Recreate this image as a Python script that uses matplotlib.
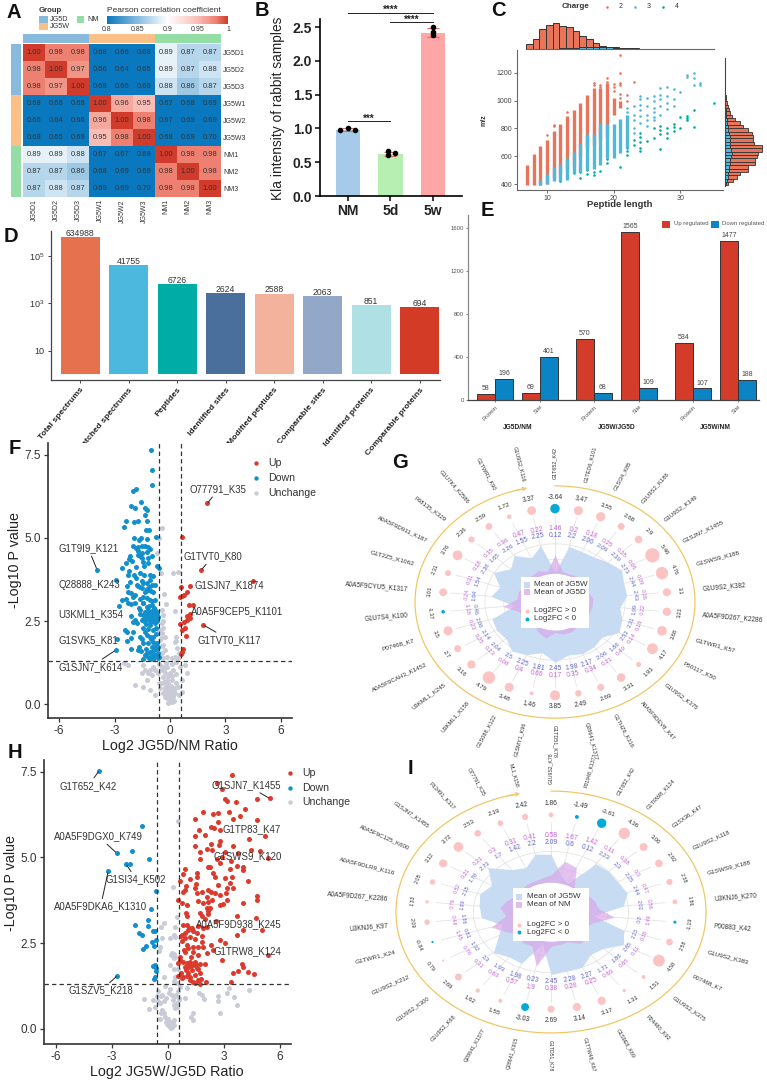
import numpy as np
import matplotlib
matplotlib.use('Agg')
import matplotlib.pyplot as plt
from matplotlib.colors import LinearSegmentedColormap, ListedColormap
from matplotlib.patches import Rectangle

plt.rcParams['font.family'] = ['Liberation Sans', 'DejaVu Sans']
plt.rcParams['axes.unicode_minus'] = False

W, H = 767, 1082
fig = plt.figure(figsize=(W / 100, H / 100), dpi=100)


# axes from pixel box, y counted from the top
def box(l, t, r, b, **kw):
    return fig.add_axes([l / W, 1 - b / H, (r - l) / W, (b - t) / H], **kw)


# ---------- data ----------
samples = ['JG5D1', 'JG5D2', 'JG5D3', 'JG5W1', 'JG5W2', 'JG5W3', 'NM1', 'NM2', 'NM3']
corr = [[1.00, 0.98, 0.98, 0.68, 0.66, 0.68, 0.89, 0.87, 0.87],
        [0.98, 1.00, 0.97, 0.66, 0.64, 0.65, 0.89, 0.87, 0.88],
        [0.98, 0.97, 1.00, 0.68, 0.66, 0.69, 0.88, 0.86, 0.87],
        [0.68, 0.66, 0.68, 1.00, 0.96, 0.95, 0.67, 0.68, 0.69],
        [0.66, 0.64, 0.66, 0.96, 1.00, 0.98, 0.67, 0.69, 0.69],
        [0.68, 0.65, 0.69, 0.95, 0.98, 1.00, 0.68, 0.69, 0.70],
        [0.89, 0.89, 0.88, 0.67, 0.67, 0.68, 1.00, 0.98, 0.98],
        [0.87, 0.87, 0.86, 0.68, 0.69, 0.69, 0.98, 1.00, 0.98],
        [0.87, 0.88, 0.87, 0.69, 0.69, 0.70, 0.98, 0.98, 1.00]]
sample_group = [0, 0, 0, 1, 1, 1, 2, 2, 2]

kla_groups = ['NM', '5d', '5w']
kla_mean = [0.98, 0.62, 2.42]
kla_err = [0.02, 0.03, 0.06]
kla_reps = [[0.97, 1.01, 0.98], [0.66, 0.61, 0.63], [2.50, 2.43, 2.38]]

# charge columns dense enough to merge: length, lowest and highest m/z
c2_len = [7, 8, 9, 10, 11, 12, 13, 14, 15, 16, 17, 18, 19, 20, 21]
c2_lo = [395, 395, 395, 400, 440, 470, 500, 530, 600, 660, 680, 720, 740, 900, 950]
c2_hi = [535, 615, 675, 715, 780, 830, 890, 935, 985, 1040, 1090, 1090, 1130, 1020, 1000]
c3_len = [9, 10, 11, 12, 13, 14, 15, 16, 17, 18, 19, 20, 21, 22]
c3_lo = [395, 400, 420, 420, 430, 480, 490, 500, 510, 540, 590, 590, 620, 660]
c3_hi = [430, 470, 520, 545, 590, 630, 690, 760, 760, 840, 830, 830, 870, 900]
# sparse points
c2_x = [10, 11, 11, 13, 17, 18, 19, 19, 20, 20, 21, 21, 21, 21, 21, 21, 22, 23, 19, 19, 18, 17, 20, 22]
c2_y = [750, 825, 815, 920, 1130, 1095, 1135, 1110, 1120, 1100, 1325, 1195, 1130, 1110, 1050, 1020, 1000, 1135, 1160, 980, 1110, 1110, 1070, 1040]
c3_x = [22, 22, 23, 23, 23, 23, 24, 24, 24, 24, 24, 25, 25, 25, 25, 26, 26, 26, 26, 26, 27, 27, 27, 27, 27, 28, 28, 28, 28, 29, 29, 29, 30, 31, 31, 32, 32, 32, 33, 33, 23, 24, 25, 26]
c3_y = [920, 950, 960, 900, 860, 800, 1030, 1010, 970, 930, 890, 1020, 960, 900, 860, 1030, 1000, 950, 920, 880, 1090, 1040, 1010, 960, 900, 1095, 1030, 980, 940, 1085, 1010, 960, 1065, 1185, 1170, 1195, 1165, 1110, 1130, 1110, 770, 840, 820, 860]
c4_x = [12, 13, 14, 15, 15, 16, 16, 16, 17, 17, 17, 17, 18, 19, 19, 19, 20, 20, 20, 21, 21, 21, 22, 22, 22, 23, 23, 24, 24, 24, 24, 24, 25, 26, 26, 27, 27, 27, 27, 28, 28, 28, 29, 29, 29, 30, 30, 31, 31, 31, 32, 32, 35]
c4_y = [425, 440, 480, 445, 490, 470, 500, 540, 465, 490, 530, 560, 495, 550, 580, 610, 600, 620, 700, 520, 640, 690, 610, 640, 660, 680, 720, 640, 660, 700, 740, 770, 710, 730, 800, 650, 760, 790, 820, 730, 770, 800, 780, 810, 830, 800, 880, 860, 875, 890, 808, 930, 980]
top_left_edge = 6.85
c2_len_hist = [15, 30, 58, 72, 77, 68, 64, 52, 40, 30, 18, 10, 6, 5, 4, 3, 1, 1, 1, 1]
c3_len_hist = [0, 0, 0, 1, 1, 2, 3, 4, 5, 6, 6, 6, 5, 4, 3, 2, 2, 1, 1, 1]
mz_edge = 390
c2_mz_hist = [8, 25, 35, 45, 70, 70, 90, 90, 95, 100, 110, 112, 88, 85, 85, 82, 70, 55, 45, 30, 20, 15, 12, 8, 5, 3, 2, 1, 1]
c3_mz_hist = [4, 6, 8, 10, 12, 12, 16, 16, 18, 20, 18, 16, 16, 14, 14, 12, 10, 8, 6, 5, 4, 3, 2, 1, 1, 0, 0, 0, 0]

count_names = ['Total spectrums', 'Matched spectrums', 'Peptides', 'Identified sites',
               'Modified peptides', 'Comparable sites', 'Identified proteins', 'Comparable proteins']
count_vals = [634988, 41755, 6726, 2624, 2588, 2063, 851, 694]
count_cols = ['#E6714F', '#4CB8DD', '#00ADA6', '#4A6F9C', '#F3B29B', '#93A7C9', '#AEE0E4', '#D43B27']

reg_kind = ['Protein', 'Site', 'Protein', 'Site', 'Protein', 'Site']
reg_up = [58, 69, 570, 1565, 534, 1477]
reg_down = [196, 401, 68, 109, 107, 188]
reg_groups = ['JG5D/NM', 'JG5W/JG5D', 'JG5W/NM']
reg_pos = [0, 1, 2.2, 3.2, 4.4, 5.4]

f_up_x = [.67, 2.02, 1.68, .58, 1.08, .94, .76, .56, .67, 1.03, 1.23, 1.08, .99, .9, .76, .54, 1.08, .94, .81, .67, 1.81, .87, .72, .63, .58, 4.5]
f_up_y = [5.03, 6.04, 4.03, 3.51, 3.55, 3.38, 3.28, 3.23, 3.25, 2.99, 2.98, 2.72, 2.63, 2.53, 2.48, 2.41, 2.58, 2.66, 2.28, 2.23, 2.38, 2.05, 1.65, 1.56, 1.51, 3.71]
f_down_x = [-1.05, -.99, -.98, -1.84, -1.99, -1.55, -2.13, -1.92, -1.36, -1.23, -1.37, -2.38, -2.49, -1.93, -1.72, -1.25, -1.28, -1.14, -1.97, -1.57, -1.7, -1.25, -.74,
            -2.02, -1.84, -1.72, -1.54, -1.36, -1.17, -1.07, -1.75, -1.54, -1.26, -2.15, -.96, -1.54, -1.17, -1.75, -2.22, -2.37, -1.21, -1.48, -2.62, -1.86, -2.2, -.72, -.58,
            -1.08, -2.28, -2.93, -2.19, -1.84, -1.08, -.9, -1.54, -1.45, -1.72, -1.26, -1.14, -1, -.81, -1.51, -1.63, -1.81, -2.26, -2.38, -1.9, -1.36, -1.17, -.9, -1.45, -2, -2.57,
            -2.26, -2.76, -1.88, -1.45, -1.08, -.81, -1.26, -1, -1.63, -1.36, -1.17, -.99, -.81, -.69, -1.45, -1.26, -1.08, -.9, -.72, -1.36, -1.17, -.99, -.81, -.63, -1.54, -1.08, -.81,
            -1.99, -1.9, -1.77, -2.44, -2.31, -1.99, -1.45, -1.08, -.9, -1.36, -1.23, -1.08, -.9, -2.35, -1.63, -.9, -2.85, -2.94, -2.13, -1.72, -1.66, -1.45, -1.17, -.99, -.81, -.69,
            -1.08, -.9, -.76, -.63, -1.36, -1.17, -.99, -.81, -.63, -1.45, -1.08, -.9, -.67, -.58, -3.95,
            -2.05, -1.6, -1.4, -1.95, -1.65, -1.4, -2.35, -2.1, -1.6, -1.25, -.95, -2.1, -1.7, -1.15, -.85, -1.6, -2.1, -.95, -1.3, -.75, -1.2, -.75, -1.05, -1.5, -2.1, -.7, -1.3, -.75, -.95, -1.25, -1.55, -1.25, -1.05, -1.45, -.85, -1.05, -1.25, -1.4, -.95, -1.1]
f_down_y = [7.65, 7.06, 6.6, 6.48, 6.4, 6.09, 5.95, 5.9, 5.9, 5.83, 5.69, 5.51, 5.34, 5.47, 5.51, 5.51, 5.24, 5.24, 4.99, 5.01, 4.94, 4.98, 5.02,
            4.75, 4.69, 4.73, 4.76, 4.75, 4.73, 4.67, 4.61, 4.56, 4.59, 4.47, 4.46, 4.41, 4.39, 4.49, 4.36, 4.26, 4.26, 4.29, 4.11, 4.14, 4.02, 4.17, 4.1,
            3.89, 3.89, 3.75, 3.66, 3.79, 3.73, 3.86, 3.7, 3.63, 3.56, 3.63, 3.53, 3.58, 3.58, 3.48, 3.53, 3.58, 3.38, 3.15, 3.28, 3.38, 3.43, 3.38, 3.23, 3.23, 3.13,
            3.05, 2.96, 3.03, 3.03, 3.13, 3.13, 2.93, 2.98, 2.83, 2.78, 2.83, 2.81, 2.83, 2.78, 2.68, 2.68, 2.73, 2.71, 2.68, 2.58, 2.58, 2.63, 2.58, 2.63, 2.53, 2.48, 2.45,
            2.48, 2.53, 2.43, 2.23, 2.18, 2.18, 2.28, 2.38, 2.23, 2.18, 2.08, 2.03, 2.03, 1.91, 2.03, 1.88, 1.97, 1.62, 1.66, 1.63, 1.73, 1.83, 1.83, 1.73, 1.75, 1.83,
            1.58, 1.61, 1.65, 1.71, 1.48, 1.43, 1.45, 1.48, 1.53, 1.36, 1.37, 1.36, 1.38, 1.43, 4.05,
            4.3, 4.45, 4.15, 3.9, 3.95, 3.9, 3.55, 3.35, 3.15, 3.2, 3.1, 3.0, 2.9, 2.95, 2.9, 2.7, 2.65, 2.5, 2.4, 2.3, 2.25, 2.1, 1.95, 1.95, 2.0, 2.5, 1.65, 1.45, 1.5, 1.55, 1.6, 3.45, 3.4, 3.05, 2.75, 2.6, 2.55, 2.5, 2.75, 2.65]
f_none_x = [-.45, -.61, -.72, .42, .18, -.49, -.33, -.23, -.45, -.36, -.45, -.58, -.36, -.45, -.27, .33, -.54, .27, -.36, -.27, .36, -.45, -.18, .27, .45, .09, -.36, .49,
            -1.45, -1.36, -1.54, -2.49, -2.26, -1.9, -1.45, -1.08, -.81, -1.08, -.99, -.81, -.63, -.45, -.36, -.18, 0, .18, .54, .81, .9, .63, .45, -.45, -.27, -.18, 0, .09, -.09, -.27, .09, .18, .27, -.09, .09, -.36, -.54, .27, -.18, -.27, -.4, 0, -.09, .09, -.18, 0, .22, -.09, -.9, -1.17, -1.26,
            .05, -.05, .15, .05, -.2, -.1, -.3, -.15, .12, .02, -.02, .2, -.25, .1, .35, -.35, .3, -.6, .65, .5, -.6, -.2, .1, .3, -.5, -.45, -.5, -.4, .35, .25]
f_none_y = [5.29, 5.01, 4.54, 3.99, 3.96, 3.94, 3.31, 3.0, 2.83, 2.68, 2.45, 2.23, 2.28, 2.13, 2.03, 2.03, 1.93, 1.88, 1.78, 1.63, 1.68, 1.53, 1.43, 1.43, 1.38, 1.38, 1.38, 1.53,
            1.17, 1.02, .92, 1.24, 1.17, .57, .5, .42, .27, 1.02, .87, 1.02, .92, 1.02, .82, 1.12, .92, 1.02, 1.12, 1.17, .92, .72, .52, .62, .47, .32, .22, .07, .02, .22, .42, .22, .32, .62, .72, .32, .47, .47, .72, .92, 1.12, .47, .32, .22, .17, .12, .1, .17, 1.12, .92, .72,
            .3, .45, .3, .55, .55, .85, .65, .25, .12, .25, .08, .35, .4, .85, .62, 1.0, .9, .62, .35, .28, 1.2, 1.25, 1.2, 1.28, 1.15, 1.75, 2.0, 2.5, 1.9, 2.8]

h_up_x = [3.46, 2.89, 2.63, 3.06, 3.19, 3.66, 4.77, 5.45, 4.14, 1.9, 1.43, 2.44, 2.67, 3.28, 3.48, 3.84, 4.77, 2.71, 2.29, 2.47, 1.68, 1.43, 2.8, 5.22, 4.37, 2.31, 1.47, 2.11, 1.72, 2.8, 2.74, 2.35, 3.06, 3.51, 3.78, 4.46, 4.95, 5.39, 1.72, 2.62, 2.8, 3.37, 3.33, 4.05, 4.05, 2.17, 2.26, .9, .82, 1.58, 1.58, 1.18, 2.44, 2.53, 3.46, 3.06, 4.32, .65, .97, .91, 1.51, 1.45, 2.17, 2.71, 3.33, 3.15, .79, .56, .73, 1.54, 1.81, 2.08, 2.31, 2.53, 2.8, 3.12, 3.51, 4.77, 4.77, 1.63, 1.9, 2.17, 2.35, 2.8, 2.97, 3.19, 4, 1, .97, 2.08, 2.26, 1.72, 1.81, 2.17, 1, 3.69, 4.73, 1.99, .82, 1, 1.27, 1.09, .91, .73, 1.36, 1.63, 1.9, 3.69, 4.05, 5.04, 2.08, 1.18, .91, .73, 1.45, 1.81, 1.63, 1.04, 1.36, 2.8, 3.06, 1.9, 1.36, .91, .65, 1.63, 2.08, 2.44, 5.34, 2.89, .65, .56, .82, 1, 1.18, 1.45, 1.72, 1.99, .91, 1.18, 1.36, 1.54, .68, 1.09, 1.45, 1.72, 3.96, 4, 3.78, 3.48, 4.32, 4.59, .56, .73, 1, 1.18, 1.36, 1.63, 2.04, 3.39, .82, 1.45, 1.72, 2, 2.9, 3.7,
          2.15, 2.55, 1.15, 1.55, .7, 1.85, 2.3, 1.05, 1.25, .85, 1.6, 1.3, .95, 1.1, 1.5, 1.2, 1.75]
h_up_y = [7.41, 6.99, 7.16, 6.7, 6.64, 6.62, 6.71, 6.72, 6.4, 6.31, 6.11, 6.26, 6.29, 6.31, 6.13, 6.21, 6.09, 6.02, 5.9, 5.85, 5.79, 5.61, 5.8, 5.61, 5.53, 5.39, 5.32, 5.24, 5.15, 5.49, 5.36, 5.22, 5.17, 5.32, 5.12, 5.22, 5.19, 4.97, 4.96, 4.95, 4.83, 4.9, 4.66, 4.71, 4.64, 4.71, 4.73, 4.65, 4.52, 4.56, 4.42, 4.36, 4.54, 4.44, 4.44, 4.39, 4.31, 4.3, 4.17, 4.05, 4.23, 4.1, 4.05, 4.2, 4.25, 4.1, 4, 3.76, 3.68, 3.95, 4, 3.86, 4, 3.95, 3.9, 3.95, 4.1, 3.88, 3.76, 3.74, 3.66, 3.71, 3.76, 3.62, 3.64, 3.76, 3.68, 3.62, 3.39, 3.52, 3.52, 3.39, 3.28, 3.34, 3.3, 3.28, 3.22, 3.2, 3.03, 3.03, 2.93, 2.89, 2.79, 2.74, 2.84, 3.01, 2.93, 2.74, 2.87, 2.89, 2.98, 2.69, 2.64, 2.55, 2.62, 2.53, 2.4, 2.45, 2.4, 2.59, 2.5, 2.4, 2.25, 2.23, 2.11, 2.16, 2.21, 2.3, 2.16, 2.01, 2.01, 1.91, 1.96, 1.91, 1.96, 1.96, 1.9, 1.9, 1.8, 1.82, 1.87, 1.77, 1.62, 1.62, 1.57, 1.62, 1.9, 1.8, 1.7, 1.62, 1.65, 1.59, 1.53, 1.48, 1.55, 1.43, 1.38, 1.43, 1.38, 1.38, 1.51, 1.33, 1.31, 5.65, 5.0, 4.75,
          3.45, 3.15, 2.95, 2.8, 2.7, 2.7, 2.45, 2.35, 2.1, 2.3, 1.75, 1.72, 1.72, 1.8, 1.85, 1.52, 1.45]
h_down_x = [-3.69, -1.4, -1.92, -2.76, -1.04, -2.04, -2.24, -3.21, -.63, -.93, -1.08, -1.76, -1.09, -.81, -.7, -1.56, -1.4, -.63, -1.2, -1.33, -.86, -.77, -.81, -.7, -.65, -.65, -.72, -.77, -2.72]
h_down_y = [7.53, 5.91, 5.19, 5.13, 4.96, 4.82, 4.8, 4.59, 4.02, 3.51, 3.18, 3.04, 3.01, 2.86, 2.86, 2.81, 2.73, 2.59, 2.43, 2.32, 2.52, 2.43, 1.82, 1.85, 1.77, 1.7, 1.5, 1.46, 1.55]
h_none_x = [.52, .29, .48, -.23, -.36, .39, .3, .09, .39, -.32, -.41, -.5, .22, .34, .3, .13, -.2, .39, .3, .48,
            -1.27, -.54, -.23, -.68, -1.04, -.41, -.38, -.14, 0, .1, .2, .05, .15, -.1, .25, .1, .3, .05, .2, -.05, .22, .57, .48, .93, 1.65, 1.83, 1.95, 2.67, 2.67, 3.17, 3.3, 3.53, 3.71, 4.37, 2.81, 1.34, 1.25, 1.33, .48, .34, .04, .66, 1.02,
            -.8, -.6, -.3, -.1, .1, .25, .4, 0, -.2, -.3, .15, .3, -.45, .45, .55, -.15, .6, -.4, .35, .4, .15, .55, .35, -.55]
h_none_y = [6.06, 4.15, 3.27, 3.08, 2.98, 2.98, 2.74, 2.66, 2.69, 2.66, 2.4, 2.27, 2.2, 2.19, 2.06, 1.87, 1.5, 1.5, 1.4, 1.33,
            .86, .8, .8, .65, .58, .75, .46, .36, .1, .15, .05, .2, .1, .2, .15, .05, .1, .1, .2, .15, .99, .89, .75, .89, 1.04, .99, .86, .97, .8, 1.06, 1.18, .94, .7, 1.12, .47, .46, .36, .26, .65, .94, 1.04, 1.23, 1.19,
            .85, .95, 1.0, .9, 1.15, .85, .6, .3, .45, .55, .02, .25, .3, 1.0, 1.1, 1.25, .85, .95, .7, 2.1, 2.15, 1.75, 1.75, 1.1]

g_sites = ['G1T652_K42', 'G1TED6_K101', 'G1SI34_K85', 'G1U9S2_K186', 'G1U9S2_K149', 'G1SJN7_K1455',
           'G1SWS9_K188', 'G1U9S2_K382', 'A0A5F9D267_K2286', 'G1TWR1_K57', 'P50117_K50', 'G1U9S2_K375',
           'A0A5F9DEV8_K47', 'G1THZ6_K316', 'Q28641_K1377', 'G1TD51_K78', 'G1SMY1_K96', 'G1S088_K122',
           'U3KML1_K158', 'U3KML1_K245', 'A0A5F9CAH3_K1452', 'P07468_K7', 'G1U7S4_K100', 'A0A5F9CYU5_K1317',
           'G1T2Z5_K1062', 'A0A5F9D911_K187', 'P68135_K329', 'G1U7K4_K2586', 'G1TWR1_K90', 'G1U9S2_K116']
g_fc = [-3.64, 3.47, 3.55, 2.68, 2.9, 5.46, 4.76, 3.1, 3.21, 3.68, 4.17, 1.93, 3.31, 2.69, 2.49,
        3.85, 1.46, 3.48, 4.79, 3.16, 2.7, 3.5, -1.37, 3.01, 2.31, 3.76, 2.36, 2.59, 1.72, 3.37]
g_late = [0.12, 2.2, 2.06, 2.09, 2.39, 2.73, 2.44, 2.43, 1.99, 2.31, 2.53, 1.86, 2.06, 2.17, 1.98,
          2.45, 1.81, 2.25, 2.5, 2.04, 2.14, 2.06, 0.46, 1.94, 1.54, 2.36, 1.65, 2.26, 1.55, 2.25]
g_early = [1.46, 0.2, 0.18, 0.25, 0.35, 0.06, 0.09, 0.26, 0.22, 0.18, 0.14, 0.49, 0.21, 0.34, 0.35,
           0.17, 0.66, 0.4, 0.08, 0.23, 0.25, 0.23, 1.18, 0.24, 0.31, 0.18, 0.35, 0.36, 0.47, 0.22]

i_sites = ['G1U9S2_K78', 'P01948_K1377', 'G1T652_K42', 'G1TRW8_K124', 'G1SX36_K47', 'G1U9S2_K118',
           'G1SWS9_K188', 'U3KNJ6_K270', 'P00883_K42', 'G1U9S2_K383', 'P07468_K7', 'G1U9S2_K375',
           'P24480_K92', 'G1S9E8_K69', 'G1T7W48_K67', 'G1TD51_K78', 'Q28641_K915', 'Q28641_K1377',
           'G1U9S2_K68', 'G1U9S2_K300', 'G1U9S2_K212', 'G1TWR1_K24', 'U3KNJ6_K97', 'A0A5F9D267_K2286',
           'A0A5F9DLR9_K116', 'A0A5F9C125_K600', 'G1SJN7_K1455', 'P13491_K317', 'O77791_K35', 'ML1_K158']
i_fc = [1.86, -1.49, -3.61, 4.36, 3.06, 2.92, 2.38, 1.86, -1.19, 2.58, 4.58, 1.51, 1.31, 3.17, 3.14,
        2.69, -3.03, 1.55, 1.62, 2.69, 0.79, -0.84, 2.09, 1.33, 2.05, 3.12, 3.72, 2.53, 2.19, 2.42]
i_late = [2.09, 0.6, 0.12, 2.23, 2.3, 2.25, 2.44, 2.02, 0.3, 2.23, 2.65, 1.86, 1.71, 2.27, 2.28,
          2.45, 0.23, 1.98, 1.93, 2.3, 1.32, 0.81, 1.86, 1.99, 2.15, 1.78, 2.73, 1.7, 1.42, 2.2]
i_base = [0.58, 1.67, 1.42, 0.11, 0.38, 0.3, 0.47, 0.56, 1.49, 0.38, 0.11, 0.65, 0.69, 0.25, 0.28,
          0.38, 1.9, 0.57, 0.63, 0.31, 0.76, 1.45, 0.44, 0.79, 0.52, 0.21, 0.21, 0.3, 0.31, 0.41]

# ---------- A: correlation heatmap ----------
heat_cmap = LinearSegmentedColormap.from_list(
    'corr', [(0, '#0A78BE'), (0.5, '#FFFFFF'), (0.75, '#F9BDB5'), (0.9, '#EE8272'), (1, '#D03B2B')])
group_cols = ['#88BADD', '#FBC088', '#94DDA4']

ax = box(23, 44, 221, 197)
im = ax.imshow(corr, cmap=heat_cmap, vmin=0.8, vmax=1, aspect='auto')
for i, row in enumerate(corr):
    for j, v in enumerate(row):
        ax.text(j, i, '%.2f' % v, ha='center', va='center', fontsize=5.4, color='#333333')
ax.set_xticks(range(9))
ax.set_xticklabels(samples, rotation=90, fontsize=5, color='#333333')
ax.yaxis.tick_right()
ax.set_yticks(range(9))
ax.set_yticklabels(samples, fontsize=5, color='#333333')
ax.tick_params(length=0, pad=1.5)
for s in ax.spines.values():
    s.set_visible(False)

ax = box(23, 34, 221, 43)
ax.imshow([sample_group], cmap=ListedColormap(group_cols), aspect='auto')
ax.axis('off')
ax = box(11, 44, 21, 197)
ax.imshow([[g] for g in sample_group], cmap=ListedColormap(group_cols), aspect='auto')
ax.axis('off')

cax = box(107, 16, 228, 24)
cb = fig.colorbar(im, cax=cax, orientation='horizontal', ticks=[0.8, 0.85, 0.9, 0.95, 1])
cb.ax.set_xticklabels(['0.8', '0.85', '0.9', '0.95', '1'])
cb.ax.tick_params(labelsize=5, length=0, pad=1.5, labelcolor='#333333')
cb.outline.set_visible(False)

# ---------- B: Kla intensity ----------
ax = box(320, 19, 462, 196)
x = np.arange(3)
ax.bar(x, kla_mean, width=0.57, color=['#A6CBEA', '#B7EFB2', '#FFA6A6'])
ax.errorbar(x, kla_mean, yerr=kla_err, fmt='none', ecolor='#E8685A', elinewidth=0.8, capsize=4, capthick=0.8)
for i, reps in enumerate(kla_reps):
    ax.scatter([i - 0.18, i, i + 0.18] if i == 0 else [i - 0.05, i - 0.05, i + 0.1] if i == 1 else [i, i, i],
               reps, s=9, color='black', zorder=4)
ax.set_xlim(-0.65, 2.68)
ax.set_ylim(0, 2.62)
ax.set_xticks(x)
ax.set_xticklabels(kla_groups, fontsize=10, fontweight='bold', color='#222222')
ax.set_yticks([0, 0.5, 1, 1.5, 2, 2.5])
ax.set_yticklabels(['0.0', '0.5', '1.0', '1.5', '2.0', '2.5'], fontsize=10, fontweight='bold', color='#222222')
ax.set_ylabel('Kla intensity of rabbit samples', fontsize=9.9, color='#222222')
ax.yaxis.set_label_coords(285 / W, 1 - 108 / H, transform=fig.transFigure)
ax.tick_params(width=1.1, length=3.5, pad=2)
ax.spines[['top', 'right']].set_visible(False)
ax.spines[['left', 'bottom']].set_linewidth(1.2)
for x0, x1, y, stars in [(0, 2, 2.71, '****'), (1, 2, 2.57, '****'), (0, 1, 1.11, '***')]:
    ax.plot([x0, x1], [y, y], color='#222222', lw=0.7, clip_on=False)
    ax.text((x0 + x1) / 2, y - 0.035, stars, ha='center', va='bottom', fontsize=7, fontweight='bold', color='#222222', clip_on=False)

# ---------- C: peptide length vs m/z ----------
charge_cols = ['#E8745A', '#4FB8DC', '#00AE9E']
ax = box(517, 50, 723, 190)
ax.vlines(c2_len, c2_lo, c2_hi, color=charge_cols[0], lw=2.4)
ax.vlines(c3_len, c3_lo, c3_hi, color=charge_cols[1], lw=2.4)
ax.scatter(c2_x, c2_y, s=3.5, color=charge_cols[0], lw=0)
ax.scatter(c3_x, c3_y, s=3.5, color=charge_cols[1], lw=0)
ax.scatter(c4_x, c4_y, s=3.5, color=charge_cols[2], lw=0)
ax.set_xlim(5.5, 36.4)
ax.set_ylim(357, 1364)
ax.set_xticks([10, 20, 30])
ax.set_yticks([400, 600, 800, 1000, 1200])
ax.tick_params(labelsize=5, length=2, width=0.6, pad=1.5, color='#555555', labelcolor='#444444')
ax.set_xlabel('Peptide length', fontsize=6.8, fontweight='bold', color='#333333')
ax.xaxis.set_label_coords(620 / W, 1 - 200 / H, transform=fig.transFigure)
ax.set_ylabel('m/z', fontsize=5, fontweight='bold', color='#333333')
ax.yaxis.set_label_coords(488 / W, 1 - 120 / H, transform=fig.transFigure)
ax.spines[['top', 'right']].set_visible(False)
ax.spines[['left', 'bottom']].set_color('#666666')

ax = box(517, 22, 723, 49)
edges = top_left_edge + np.arange(len(c2_len_hist))
ax.bar(edges, c2_len_hist, width=1, align='edge', color=charge_cols[0], edgecolor='#333333', lw=0.7)
ax.bar(edges, c3_len_hist, width=1, align='edge', color=charge_cols[1], edgecolor='#333333', lw=0.7)
ax.set_xlim(5.5, 36.4)
ax.set_ylim(0, 80)
ax.axis('off')
ax.plot([6.85, 35.1], [0, 0], color='#666666', lw=0.8, clip_on=False)

ax = box(725, 50, 764, 190)
edges = mz_edge + 24.2 * np.arange(len(c2_mz_hist))
ax.barh(edges, c2_mz_hist, height=24.2, align='edge', color=charge_cols[0], edgecolor='#333333', lw=0.6)
ax.barh(edges, c3_mz_hist, height=24.2, align='edge', color=charge_cols[1], edgecolor='#333333', lw=0.6)
ax.set_ylim(357, 1364)
ax.set_xlim(0, 117)
ax.axis('off')
ax.plot([0, 0], [385, 1310], color='#444444', lw=0.8, clip_on=False)

# ---------- D: identification counts ----------
ax = box(51, 231, 440, 380)
ax.bar(range(8), count_vals, width=0.8, bottom=1, color=count_cols)
for i, v in enumerate(count_vals):
    ax.text(i, v * 0.93, str(v), ha='center', va='bottom', fontsize=6.2, color='#333333')
ax.set_yscale('log')
ax.set_ylim(10 ** -0.25, 10 ** 6.07)
ax.set_xlim(-0.6, 7.42)
ax.set_xticks(range(8))
ax.set_xticklabels(count_names, rotation=50, ha='right', rotation_mode='anchor', fontsize=6.1, fontweight='bold', color='#222222')
ax.set_yticks([10, 1e3, 1e5])
ax.set_yticklabels(['10', '$\\mathregular{10^3}$', '$\\mathregular{10^5}$'], fontsize=6.5, color='#333333')
ax.minorticks_off()
ax.tick_params(length=2.5, width=0.7, pad=2, color='#444444')
ax.spines[['top', 'right']].set_visible(False)
ax.spines[['left', 'bottom']].set_color('#444444')
ax.spines[['left', 'bottom']].set_linewidth(0.9)

# ---------- E: regulated proteins and sites ----------
ax = box(468, 215, 759, 400)
xp = np.array(reg_pos)
ax.bar(xp - 0.2, reg_up, width=0.4, color='#D33C2A', edgecolor='#333333', lw=0.7)
ax.bar(xp + 0.2, reg_down, width=0.4, color='#0B84C6', edgecolor='#333333', lw=0.7)
for p, u, d in zip(xp, reg_up, reg_down):
    ax.text(p - 0.2, u + 18, str(u), ha='center', va='bottom', fontsize=5, color='#444444')
    ax.text(p + 0.2, d + 18, str(d), ha='center', va='bottom', fontsize=5, color='#444444')
ax.set_xlim(-0.6, 5.87)
ax.set_ylim(0, 1720)
ax.set_xticks(xp)
ax.set_xticklabels(reg_kind, rotation=45, ha='right', rotation_mode='anchor', fontsize=4.8, color='#666666')
ax.set_yticks([0, 400, 800, 1200, 1600])
ax.tick_params(labelsize=4.3, length=1.5, width=0.5, pad=1.5, labelcolor='#555555', color='#555555')
ax.spines[['top', 'right']].set_visible(False)
ax.spines['left'].set_color('#888888')
ax.spines['left'].set_linewidth(0.9)
ax.spines['bottom'].set_color('#444444')
ax.spines['bottom'].set_linewidth(0.9)
for g, c in zip(reg_groups, [0.5, 2.7, 4.9]):
    ax.text(c, -260, g, ha='center', va='center', fontsize=4.8, fontweight='bold', color='#222222', clip_on=False)


# ---------- F, H: volcano plots ----------
def volcano(rect, ux, uy, dx, dy, nx, ny, xlabel, xlab_pos, ylab_pos, labels, ylim, xlim):
    ax = box(*rect)
    ax.scatter(nx, ny, s=13, color='#C9CCD6', lw=0)
    ax.scatter(dx, dy, s=13, color='#1290CE', lw=0)
    ax.scatter(ux, uy, s=13, color='#DC3A2C', lw=0)
    ax.axvline(-0.58, color='#333333', lw=0.9, ls=(0, (3.5, 2.5)))
    ax.axvline(0.58, color='#333333', lw=0.9, ls=(0, (3.5, 2.5)))
    ax.axhline(1.3, color='#333333', lw=0.9, ls=(0, (3.5, 2.5)))
    ax.set_xlim(*xlim)
    ax.set_ylim(*ylim)
    ax.set_xticks([-6, -3, 0, 3, 6])
    ax.set_yticks([0, 2.5, 5, 7.5])
    ax.set_yticklabels(['0.0', '2.5', '5.0', '7.5'])
    ax.tick_params(labelsize=8.5, length=3, width=0.9, pad=2, labelcolor='#333333', color='#333333')
    ax.set_xlabel(xlabel, fontsize=10.3, color='#222222')
    ax.xaxis.set_label_coords(xlab_pos[0] / W, 1 - xlab_pos[1] / H, transform=fig.transFigure)
    ax.set_ylabel('-Log10 P value', fontsize=10.3, color='#222222')
    ax.yaxis.set_label_coords(ylab_pos[0] / W, 1 - ylab_pos[1] / H, transform=fig.transFigure)
    ax.spines[['top', 'right']].set_visible(False)
    ax.spines[['left', 'bottom']].set_linewidth(1.2)
    ax.spines[['left', 'bottom']].set_color('#333333')
    for text, tx, ty, pt in labels:
        props = dict(arrowstyle='-', color='#222222', lw=0.7, shrinkA=0, shrinkB=1) if pt else None
        ax.annotate(text, xy=pt if pt else (tx, ty), xytext=(tx, ty), ha='left', va='center',
                    fontsize=6.9, color='#333333', arrowprops=props, annotation_clip=False)
    return ax


f_labels = [('O77791_K35', 1.08, 6.47, (2.02, 6.04)), ('G1T9I9_K121', -6.05, 4.69, (-3.95, 4.05)),
            ('Q28888_K243', -6.05, 3.58, None), ('U3KML1_K354', -6.05, 2.71, None),
            ('G1SVK5_K81', -6.05, 1.93, None), ('G1SJN7_K614', -6.05, 1.12, (-2.94, 1.62)),
            ('G1TVT0_K80', 0.72, 4.44, (1.68, 4.03)), ('G1SJN7_K1874', 1.34, 3.59, None),
            ('A0A5F9CEP5_K1101', 1.11, 2.79, None), ('G1TVT0_K117', 1.5, 1.93, (1.81, 2.38))]
h_labels = [('G1T652_K42', -5.8, 7.09, (-3.69, 7.53)), ('G1SJN7_K1455', 2.35, 7.11, (5.45, 6.72)),
            ('G1TP83_K47', 2.94, 5.82, None), ('G1SWS9_K120', 2.44, 5.04, None),
            ('A0A5F9DGX0_K749', -6.11, 5.61, (-2.76, 5.13)), ('G1SI34_K502', -3.33, 4.36, (-2.24, 4.8)),
            ('A0A5F9DKA6_K1310', -6.11, 3.57, (-3.21, 4.59)), ('A0A5F9D938_K245', 1.49, 3.06, None),
            ('G1TRW8_K124', 2.44, 2.27, None), ('G1SZV5_K218', -5.32, 1.12, (-2.72, 1.55))]

volcano((48, 443, 292, 718), f_up_x, f_up_y, f_down_x, f_down_y, f_none_x, f_none_y,
        'Log2 JG5D/NM Ratio', (170, 739), (22, 560), f_labels, (-0.42, 7.86), (-6.6, 6.6))
volcano((44, 760, 291, 1044), h_up_x, h_up_y, h_down_x, h_down_y, h_none_x, h_none_y,
        'Log2 JG5W/JG5D Ratio', (167, 1065), (18, 883), h_labels, (-0.44, 7.84), (-6.65, 6.6))

# ---------- G, I: radial site charts ----------
ring_blue = '#6468C8'
ring_purple = '#C565D2'


def radial(cx, cy, r0, k, ratio, sites, fc, late, other):
    rmax = 7.6
    half = r0 + rmax * k
    ax = box(cx - half, cy - half * ratio, cx + half, cy + half * ratio, projection='polar')
    ax.set_aspect('auto')
    ax.set_theta_zero_location('N')
    ax.set_theta_direction(-1)
    ax.set_rorigin(-r0 / k)
    ax.set_rlim(0, rmax)
    ax.set_axis_off()

    n = len(sites)
    th = np.arange(n) * 2 * np.pi / n
    th_closed = np.append(th, th[0])
    ring = np.linspace(0, 2 * np.pi, 181)
    for r in [1.1, 2.3]:
        ax.plot(ring, np.full(181, r), color='#E4E4E4', lw=0.6, zorder=1)
    for t in th:
        ax.plot([t, t], [0, 4.45], color='#E4E4E4', lw=0.6, zorder=1)

    ax.fill_between(th_closed, 0, np.append(late, late[0]), color='#C7DBF3', lw=0, zorder=2)
    ax.fill_between(th_closed, 0, np.append(other, other[0]), color='#D9A8EA', alpha=0.7, lw=0, zorder=3)

    sizes = [(2 * 1.3 * abs(v) * 0.72) ** 2 for v in fc]
    cols = ['#FBC4C2' if v > 0 else '#04A9D6' for v in fc]
    ax.scatter(th, np.full(n, 5.0), s=sizes, c=cols, lw=0, zorder=4)

    ax.plot(np.linspace(0, 2 * np.pi - 0.24, 300), np.full(300, 6.75), color='#F0C766', lw=0.9, zorder=4)
    ax.annotate('', xy=(2 * np.pi - 0.2, 6.75), xytext=(2 * np.pi - 0.28, 6.75),
                arrowprops=dict(arrowstyle='->', color='#F0C766', lw=0.9, shrinkA=0, shrinkB=0, mutation_scale=6))

    for t, site, f, a, b in zip(th, sites, fc, late, other):
        # direction on screen allowing for the squeezed circle
        sx, sy = np.sin(t), np.cos(t) * ratio
        radial_ang = np.degrees(np.arctan2(sy, sx))
        radial_scale = np.hypot(sx, sy)
        tang = np.degrees(np.arctan2(-ratio * np.sin(t), np.cos(t)))
        tang_scale = np.hypot(np.cos(t), ratio * np.sin(t))
        if tang > 90:
            tang -= 180
        elif tang < -90:
            tang += 180
        if t <= np.pi + 1e-6:
            ax.text(t, 7.25, site, rotation=radial_ang, ha='left', va='center', rotation_mode='anchor',
                    fontsize=4.7 * radial_scale, color='#333333')
        else:
            ax.text(t, 7.25, site, rotation=radial_ang + 180, ha='right', va='center', rotation_mode='anchor',
                    fontsize=4.7 * radial_scale, color='#333333')
        ax.text(t, 5.85, '%g' % f, rotation=tang, ha='center', va='center', rotation_mode='anchor',
                fontsize=4.8 * tang_scale, color='#333333')
        ax.text(t, 2.95, '%g' % a, rotation=tang, ha='center', va='center', rotation_mode='anchor',
                fontsize=4.9 * tang_scale, color=ring_blue, zorder=5)
        ax.text(t, 3.48, '%g' % b, rotation=tang, ha='center', va='center', rotation_mode='anchor',
                fontsize=4.9 * tang_scale, color=ring_purple, zorder=5)
    return ax


radial(555, 602, 34, 15.7, 0.83, g_sites, g_fc, g_late, g_early)
radial(551, 912, 37.6, 17.4, 0.78, i_sites, i_fc, i_late, i_base)

# ---------- legends and panel letters ----------
over = fig.add_axes([0, 0, 1, 1], facecolor='none')
over.set_xlim(0, W)
over.set_ylim(H, 0)
over.axis('off')


def note(x, y, s, size=6, weight='normal', color='#333333', ha='left'):
    over.text(x, y, s, fontsize=size, fontweight=weight, color=color, ha=ha, va='center')


def swatch(l, t, r, b, color):
    over.add_patch(Rectangle((l, t), r - l, b - t, facecolor=color, edgecolor='none'))


for s, x, y in [('A', 14, 13), ('B', 262, 11), ('C', 498, 11), ('D', 11, 237), ('E', 487, 211),
                ('F', 15, 448), ('G', 400, 463), ('H', 15, 752), ('I', 410, 768)]:
    over.text(x, y, s, fontsize=14.5, fontweight='bold', color='#111111', ha='center', va='center')

note(39, 11, 'Group', 5.6, 'bold')
swatch(39, 16, 48, 23, group_cols[0])
swatch(39, 23, 48, 30, group_cols[1])
swatch(77, 16, 84, 23, group_cols[2])
note(50, 19.5, 'JG5D', 5.2)
note(50, 26.5, 'JG5W', 5.2)
note(87, 19.5, 'NM', 5.2)
note(107, 11, 'Pearson correlation coefficient', 6)

note(562, 7, 'Charge', 5.8, 'bold')
for mx, tx, lab, col in zip([607, 635, 663], [621, 649, 677], ['2', '3', '4'], charge_cols):
    over.scatter([mx], [7], s=3.5, color=col, lw=0)
    note(tx, 7, lab, 5, ha='center')

swatch(662, 221, 670, 228, '#D33C2A')
note(674, 224, 'Up regulated', 4.3, color='#555555')
swatch(711, 221, 719, 228, '#0B84C6')
note(722, 224, 'Down regulated', 4.3, color='#555555')

for names, mx, tx, ys in [(['Up', 'Down', 'Unchange'], 255.5, 268, [463, 478, 492.5]),
                          (['Up', 'Down', 'Unchange'], 290, 302, [773, 788, 802])]:
    for name, col, y in zip(names, ['#DC3A2C', '#1290CE', '#C9CCD6'], ys):
        over.scatter([mx], [y], s=10, color=col, lw=0)
        note(tx, y, name, 7.6)

# centre keys of the radial charts
for l, t, r, b, sq, tx, ys, second in [(521, 577, 589, 628, 524, 534, [584.5, 592, 611, 618.5], 'Mean of JG5D'),
                                       (513, 888, 589, 941, 516, 527, [897, 904.5, 925, 932], 'Mean of NM')]:
    swatch(l, t, r, b, 'white')
    swatch(sq, ys[0] - 3, sq + 6, ys[0] + 3, '#C7DBF3')
    swatch(sq, ys[1] - 3, sq + 6, ys[1] + 3, '#E1BDEE')
    over.scatter([sq + 3], [ys[2]], s=8, color='#FBC4C2', lw=0)
    over.scatter([sq + 3], [ys[3]], s=8, color='#04A9D6', lw=0)
    note(tx, ys[0], 'Mean of JG5W', 5.8)
    note(tx, ys[1], second, 5.8)
    note(tx, ys[2], 'Log2FC > 0', 5.8)
    note(tx, ys[3], 'Log2FC < 0', 5.8)

fig.savefig('out.png', dpi=100, facecolor='white')
